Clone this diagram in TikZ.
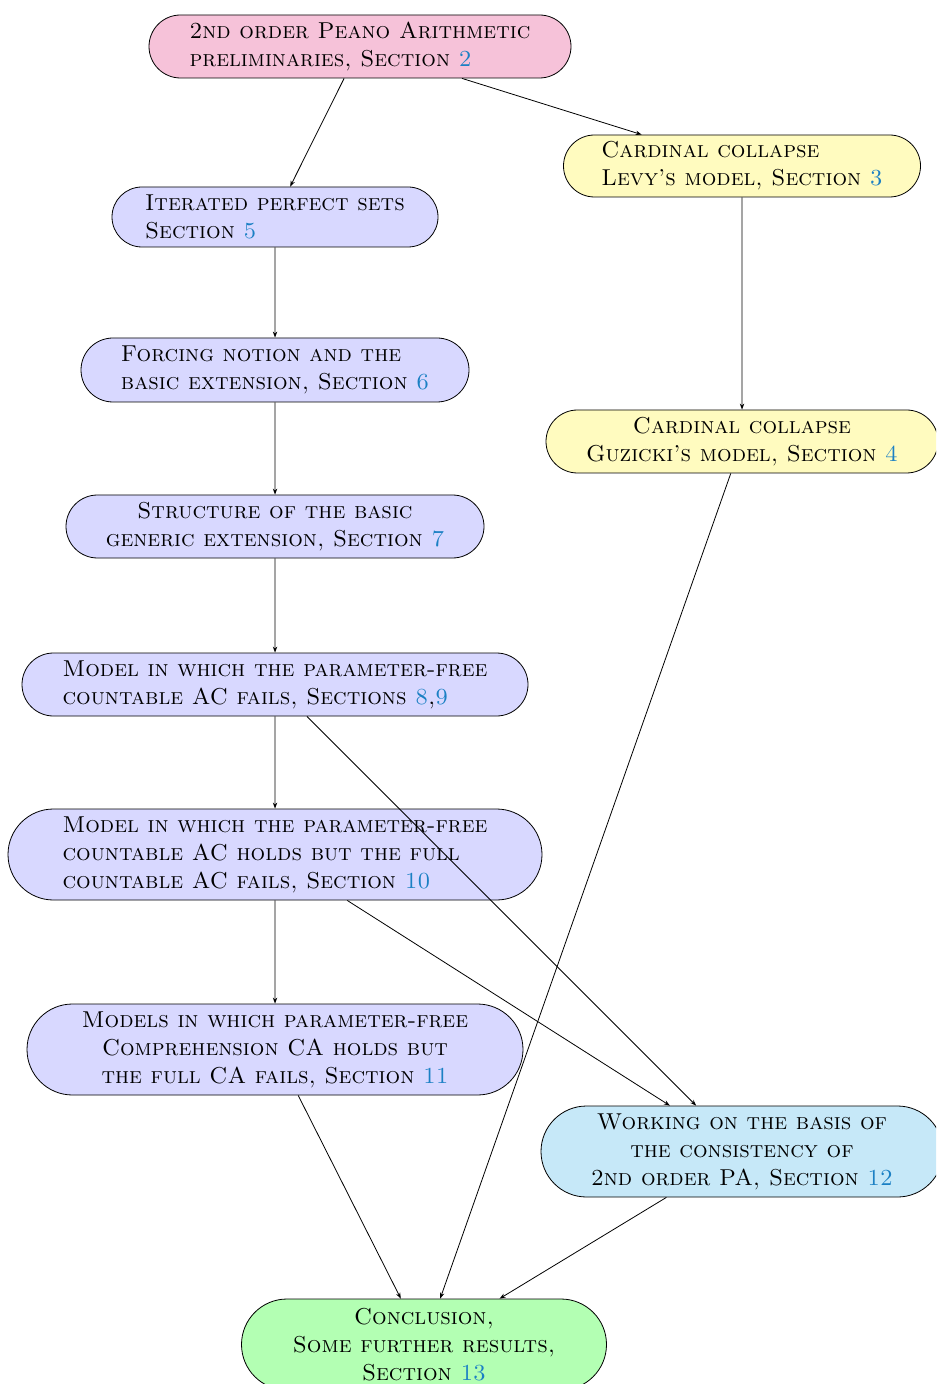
\documentclass[tikz,border=0pt]{standalone}
\usepackage{tikz}
\usepackage{xcolor}
\usetikzlibrary{shapes.misc, arrows.meta, positioning}
\definecolor{PrelimPink}{HTML}{F6C2D9}
\definecolor{CollapseYellow}{HTML}{FFFBBF}
\definecolor{ModelLavender}{HTML}{D8D8FF}
\definecolor{BasisBlue}{HTML}{C6E8F8}
\definecolor{EndGreen}{HTML}{B3FFB3}
\definecolor{LinkBlue}{HTML}{1B80C4}
\newcommand{\secnum}[1]{\textcolor{LinkBlue}{#1}}

\begin{document}
\begin{tikzpicture}[x=0.5pt, y=-0.5pt,
  box/.style={rounded rectangle, draw, line width=0.4pt, inner sep=2pt,
    font=\fontsize{11.5}{14}\selectfont\scshape},
  >={Stealth[length=3pt, width=2.2pt]}]
  \useasboundingbox (0,0) rectangle (936,1384);
  \clip (0,0) rectangle (936,1384);
  \node (prelim) [box, fill=PrelimPink, align=left, minimum width=215pt, minimum height=31.5pt] at (360,46.5) {2nd order Peano Arithmetic\\preliminaries, Section \secnum{2}};
  \node (levy) [box, fill=CollapseYellow, align=left, minimum width=182.5pt, minimum height=31pt] at (742,166) {Cardinal collapse\\Levy's model, Section \secnum{3}};
  \node (perfect) [box, fill=ModelLavender, align=left, minimum width=167pt, minimum height=30pt] at (275,217) {Iterated perfect sets\\Section \secnum{5}};
  \node (forcing) [box, fill=ModelLavender, align=left, minimum width=198pt, minimum height=32pt] at (275,370) {Forcing notion and the\\basic extension, Section \secnum{6}};
  \node (guzicki) [box, fill=CollapseYellow, align=center, minimum width=200pt, minimum height=31.5pt] at (742,441.5) {Cardinal collapse\\Guzicki's model, Section \secnum{4}};
  \node (structure) [box, fill=ModelLavender, align=center, minimum width=213pt, minimum height=31.5pt] at (275,526.5) {Structure of the basic\\generic extension, Section \secnum{7}};
  \node (acfails) [box, fill=ModelLavender, align=left, minimum width=257pt, minimum height=31.5pt] at (275,684.5) {Model in which the parameter-free\\countable AC fails, Sections \secnum{8},\secnum{9}};
  \node (acholds) [box, fill=ModelLavender, align=left, minimum width=271pt, minimum height=45.5pt] at (275,854.5) {Model in which the parameter-free\\countable AC holds but the full\\countable AC fails, Section \secnum{10}};
  \node (caholds) [box, fill=ModelLavender, align=center, minimum width=252pt, minimum height=45.5pt] at (275,1049.5) {Models in which parameter-free\\Comprehension CA holds but\\the full CA fails, Section \secnum{11}};
  \node (basis) [box, fill=BasisBlue, align=center, minimum width=205pt, minimum height=45.5pt] at (742,1151.5) {Working on the basis of\\the consistency of\\2nd order PA, Section \secnum{12}};
  \node (concl) [box, fill=EndGreen, align=center, minimum width=186.5pt, minimum height=45.5pt] at (424,1344.5) {Conclusion,\\Some further results,\\Section \secnum{13}};

  \draw[->, line width=0.4pt] (prelim) -- (perfect);
  \draw[->, line width=0.4pt] (prelim) -- (levy);
  \draw[->, line width=0.4pt] (levy) -- (guzicki);
  \draw[->, line width=0.4pt] (perfect) -- (forcing);
  \draw[->, line width=0.4pt] (forcing) -- (structure);
  \draw[->, line width=0.4pt] (structure) -- (acfails);
  \draw[->, line width=0.4pt] (acfails) -- (acholds);
  \draw[->, line width=0.4pt] (acholds) -- (caholds);
  \draw[->, line width=0.4pt] (acfails) -- (basis);
  \draw[->, line width=0.4pt] (acholds) -- (basis);
  \draw[->, line width=0.4pt] (caholds) -- (concl);
  \draw[->, line width=0.4pt] (guzicki) -- (concl);
  \draw[->, line width=0.4pt] (basis) -- (concl);
\end{tikzpicture}
\end{document}
